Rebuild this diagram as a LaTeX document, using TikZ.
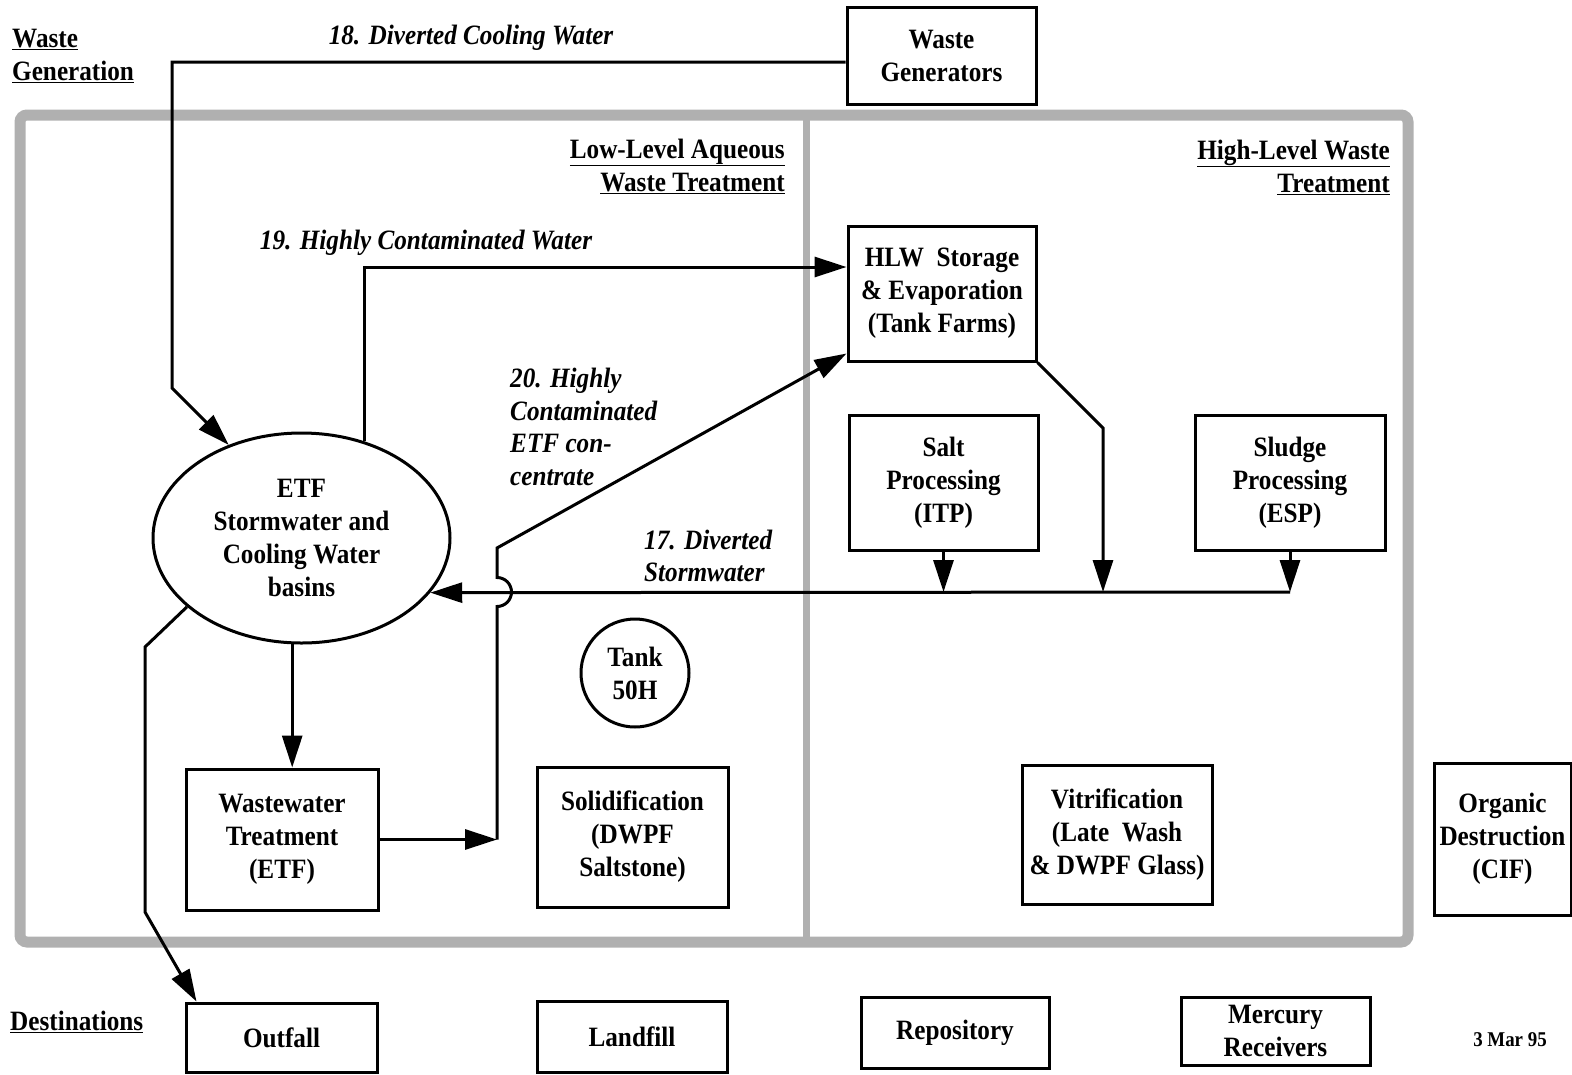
\documentclass[tikz,border=0pt]{standalone}
\usepackage{fontspec}
\setmainfont{Liberation Serif}[FakeStretch=0.9]
\usetikzlibrary{shapes.geometric,arrows.meta}
\begin{document}
\begin{tikzpicture}[x=1pt,y=-1pt,
  base/.style={font=\fontsize{28}{33}\selectfont\bfseries},
  box/.style={base, draw, line width=3pt, rectangle, inner sep=0pt, align=center},
  lbl/.style={font=\fontsize{28}{32.5}\selectfont\bfseries\itshape, inner sep=0pt, align=left},
  hdr/.style={base, inner sep=0pt},
  flow/.style={line width=3pt, -{Triangle[length=32pt,width=20pt]}},
  frame/.style={draw=gray!62, line width=11pt}]
\useasboundingbox (0,0) rectangle (1572,1074);
% gray frame and divider
\draw[frame, rounded corners=7pt] (20,115) rectangle (1408,942);
\draw[draw=gray!62, line width=7pt] (806,115) -- (806,942);

% headings
\node[hdr, anchor=west, align=left] (hgen) at (12,56) {\underline{Waste}\\\underline{Generation}};
\node[hdr, anchor=west] (hdest) at (10,1022) {\underline{Destinations}};
\node[hdr, anchor=east, align=right] (hlow) at (785,166) {\underline{Low-Level Aqueous}\\\underline{Waste Treatment}};
\node[hdr, anchor=east, align=right] (hhigh) at (1390,167) {\underline{High-Level Waste}\\\underline{Treatment}};

% flow labels
\node[lbl] (l18) at (471,38) {18. Diverted Cooling Water};
\node[lbl] (l19) at (426,243) {19. Highly Contaminated Water};
\node[lbl, anchor=west] (l20) at (510,427) {20. Highly\\Contaminated\\ETF con-\\centrate};
\node[lbl, anchor=west] (l17) at (644,556) {17. Diverted\\Stormwater};
\node[font=\fontsize{21}{24}\selectfont\bfseries, inner sep=0pt] (date) at (1510,1040) {3 Mar 95};

% boxes
\node[box, minimum width=189pt, minimum height=97pt] (wg) at (941.5,55.5) {Waste\\Generators};
\node[box, minimum width=188pt, minimum height=135pt] (hlw) at (942,293.5) {HLW\ \ Storage\\\& Evaporation\\(Tank Farms)};
\node[box, minimum width=189pt, minimum height=135pt] (salt) at (943.5,482.5) {Salt\\Processing\\(ITP)};
\node[box, minimum width=190pt, minimum height=135pt] (sludge) at (1290,482.5) {Sludge\\Processing\\(ESP)};
\node[base, draw, ellipse, line width=3pt, minimum width=297pt, minimum height=210pt, inner sep=0pt, align=center] (etf) at (301.5,538) {ETF\\Stormwater and\\Cooling Water\\basins};
\node[box, minimum width=192pt, minimum height=141pt] (ww) at (282,839.5) {Wastewater\\Treatment\\(ETF)};
\node[box, minimum width=191pt, minimum height=140pt] (solid) at (632.5,837) {Solidification\\(DWPF\\Saltstone)};
\node[base, draw, circle, line width=3pt, minimum size=108pt, inner sep=0pt, align=center] (tank) at (635,673) {Tank\\50H};
\node[box, minimum width=190pt, minimum height=139pt] (vitr) at (1117,834.5) {Vitrification\\(Late\ \ Wash\\\& DWPF Glass)};
\node[box, minimum width=137pt, minimum height=152pt] (org) at (1502.5,839) {Organic\\Destruction\\(CIF)};
\node[box, minimum width=191pt, minimum height=69pt] (outfall) at (281.5,1037.5) {Outfall};
\node[box, minimum width=190pt, minimum height=71pt] (landfill) at (632,1036.5) {Landfill};
\node[box, minimum width=188pt, minimum height=71pt] (repo) at (955,1032.5) {Repository};
\node[box, minimum width=189pt, minimum height=68pt] (merc) at (1275.5,1031) {Mercury\\Receivers};

% connectors
\coordinate (c18) at (172,62);
\coordinate (c18b) at (172,388);
\draw[flow] (wg.west |- c18) -- (c18) -- (c18b) -- (etf.128);

\coordinate (c19) at (363,267);
\draw[flow] (etf.57) -- (etf.57 |- c19) -- (hlw.west |- c19);

\coordinate (bus) at (1290,592);
\draw[flow] (bus) -- (etf.-23);
\draw[flow] (salt.south) -- (salt.south |- bus);
\draw[flow] (sludge.south) -- (bus);
\coordinate (hb) at (1103,428);
\draw[flow] (hlw.south east) -- (hb) -- (hb |- bus);

\coordinate (j20) at (497,548);
\draw[flow] (ww.east) -- (ww.east -| j20);
\draw[flow] (ww.east -| j20) -- (497,606.5) arc[start angle=-90, end angle=90, radius=14.5pt] -- (j20) -- ([yshift=9pt]hlw.south west);

\draw[flow] (etf.265) -- (etf.265 |- ww.north);

\coordinate (o1) at (145,647);
\coordinate (o2) at (145,912);
\draw[flow] (etf.211) -- (o1) -- (o2) -- ([xshift=12pt]outfall.north west);
\end{tikzpicture}
\end{document}
